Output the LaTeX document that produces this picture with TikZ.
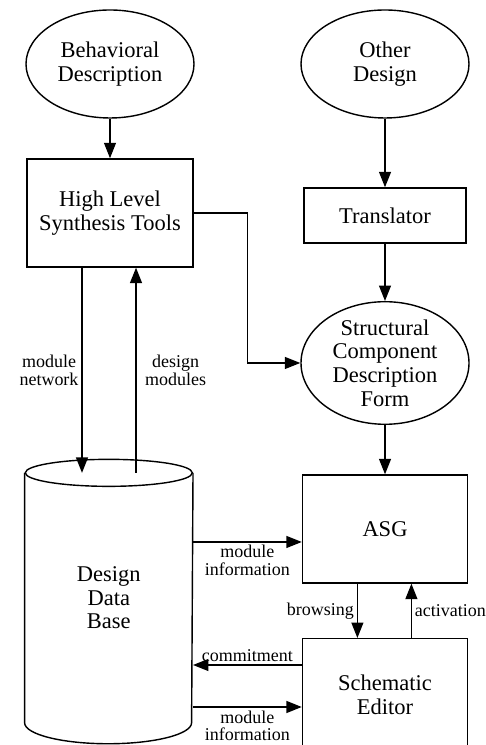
\documentclass[tikz,border=0pt]{standalone}
\usepackage{fontspec}
\setmainfont{Liberation Serif}
\usetikzlibrary{positioning,shapes.geometric,arrows.meta}

\begin{document}
\begin{tikzpicture}[
  font=\fontsize{16}{16.8}\selectfont,
  line width=1pt,
  oval/.style={ellipse, draw, minimum width=4.2cm, minimum height=2.7cm, inner sep=0pt, align=center},
  block/.style={rectangle, draw, minimum width=4.125cm, align=center},
  arr/.style={-{Triangle[length=11pt,width=8.5pt]}},
  lbl/.style={font=\fontsize{12.8}{12.6}\selectfont, align=center, inner sep=2pt}
]

% Frame
\useasboundingbox (0,0) rectangle (12.125,18.625);
\clip (0,0) rectangle (12.125,18.625);

% Sources
\node[oval] (beh) at (2.75,17.025) {Behavioral\\Description};
\node[oval] (oth) at (9.625,17.025) {Other\\Design};

% Tools
\node[block, minimum width=4.15cm, minimum height=2.7cm] (hls) at (2.75,13.3) {High Level\\Synthesis Tools};
\node[block, minimum width=4.05cm, minimum height=1.375cm] (trans) at (9.625,13.2375) {Translator};
\node[oval, minimum height=2.725cm] (scdf) at (9.625,9.55) {Structural\\Component\\Description\\Form};
\node[block, minimum height=2.7cm] (asg) at (9.625,5.4) {ASG};
\node[block, minimum height=2.8cm, anchor=north] (se) at (9.625,2.675) {Schematic\\Editor};

% Data base (cylinder)
\node[minimum width=4.175cm, minimum height=6.2125cm, inner sep=0pt, align=center] (db) at (2.72,3.68) {Design\\Data\\Base};
\draw (db.north west) -- (db.south west) arc[start angle=180, end angle=360, x radius=2.0875cm, y radius=0.525cm] -- (db.north east);
\draw (db.north) ellipse[x radius=2.0875cm, y radius=0.3375cm];

% Flow
\draw[arr] (beh) -- (hls);
\draw[arr] (oth) -- (trans);
\draw[arr] (trans) -- (scdf);
\draw[arr] (scdf) -- (asg);
\draw[arr] (hls.east) -- ++(1.35,0) |- (scdf.west);

% Tools <-> data base
\draw[arr] ([xshift=-0.7cm]hls.south) -- node[lbl, left] {module\\network} ([xshift=-0.7cm]hls.south |- db.north);
\draw[arr] ([xshift=0.65cm]hls.south |- db.north) -- node[lbl, right, xshift=4pt] {design\\modules} ([xshift=0.65cm]hls.south);

% Data base <-> editor side
\draw[arr] ([yshift=-0.325cm]asg.west -| db.east) -- node[lbl, below] {module\\information} ([yshift=-0.325cm]asg.west);
\draw[arr] ([yshift=-0.675cm]se.north west) -- node[lbl, above] {commitment} ([yshift=-0.675cm]se.north west -| db.east);
\draw[arr] ([yshift=-1.725cm]se.north west -| db.east) -- node[lbl, below] {module\\information} ([yshift=-1.725cm]se.north west);

% ASG <-> editor
\draw[arr] ([xshift=-0.69cm]asg.south) -- node[lbl, left] {browsing} ([xshift=-0.69cm]asg.south |- se.north);
\draw[arr] ([xshift=0.66cm]asg.south |- se.north) -- node[lbl, right] {activation} ([xshift=0.66cm]asg.south);

\end{tikzpicture}
\end{document}
